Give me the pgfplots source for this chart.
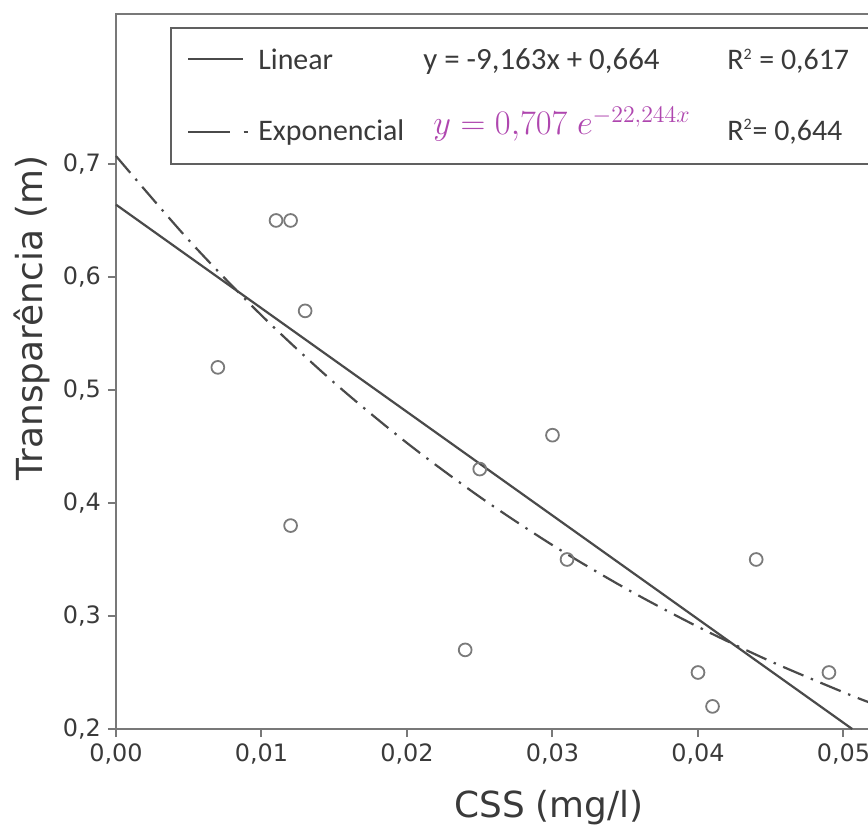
\documentclass[border=0pt]{standalone}
\usepackage{fontspec}
\setmainfont{DejaVu Sans}
\newfontfamily\legendfont{Carlito}
\usepackage{pgfplots}
\pgfplotsset{compat=1.18}
\definecolor{axisgray}{HTML}{787878}
\definecolor{txtgray}{HTML}{3A3A3A}
\definecolor{linegray}{HTML}{4A4A4A}
\definecolor{markgray}{HTML}{7A7A7A}
\definecolor{eqmagenta}{RGB}{175,70,175}

\begin{document}
\begin{tikzpicture}
\begin{axis}[
  name=ax,
  scale only axis, width=378bp, height=357.5bp,
  xmin=0, xmax=0.05196, ymin=0.2, ymax=0.8327,
  xtick={0,0.01,0.02,0.03,0.04,0.05},
  ytick={0.2,0.3,0.4,0.5,0.6,0.7},
  xtick pos=left, ytick pos=left,
  tick align=outside, major tick length=4bp,
  axis line style={axisgray, line width=1bp},
  every tick/.style={axisgray, line width=1bp},
  tick label style={font=\fontsize{12}{14}\selectfont, text=txtgray},
  /pgf/number format/assume math mode=true,
  xticklabel style={/pgf/number format/.cd, fixed, fixed zerofill, precision=2, use comma},
  yticklabel style={/pgf/number format/.cd, fixed, fixed zerofill, precision=1, use comma},
  scaled x ticks=false,
  xlabel={CSS\hspace{0.3em}(mg/l)},
  xlabel style={at={(rel axis cs:0.573,0)}, anchor=base, yshift=-44bp,
    font=\fontsize{18}{20}\selectfont, text=txtgray},
  ylabel={Transparência (m)},
  ylabel style={at={(axis description cs:-0.0966,0.575)}, anchor=base,
    font=\fontsize{18}{20}\selectfont, text=txtgray},
  clip=false,
]
% data points
\addplot[only marks, mark=o, mark size=3.2bp, mark options={markgray, line width=0.9bp}]
  coordinates {
  (0.007,0.52) (0.011,0.65) (0.012,0.65) (0.013,0.57) (0.012,0.38)
  (0.024,0.27) (0.025,0.43) (0.030,0.46) (0.031,0.35) (0.040,0.25)
  (0.041,0.22) (0.044,0.35) (0.049,0.25)
};
% linear fit
\addplot[linegray, line width=1.1bp] coordinates {(0,0.664) (0.0506,0.2)};
% exponential fit
\addplot[linegray, line width=1.1bp, dash pattern=on 11bp off 4bp on 1.2bp off 4bp, smooth]
  coordinates {
  (0,0.707) (0.005,0.6326) (0.010,0.5660) (0.015,0.5064) (0.020,0.4531)
  (0.025,0.4054) (0.030,0.3627) (0.035,0.3246) (0.040,0.2904)
  (0.045,0.2598) (0.050,0.2325) (0.0519,0.2229)
};
% legend box
\draw[fill=white, draw=axisgray!80!black, line width=0.9bp]
  (axis cs:0.00378,0.700) rectangle (axis cs:0.0535,0.8204);
\draw[linegray, line width=1bp] (axis cs:0.00495,0.7929) -- (axis cs:0.00873,0.7929);
\draw[linegray, line width=1bp] (axis cs:0.00495,0.7283) -- (axis cs:0.00784,0.7283);
\draw[linegray, line width=1.4bp] (axis cs:0.00878,0.7283) -- (axis cs:0.00908,0.7283);
\node[anchor=base west, inner sep=0, font=\legendfont\fontsize{15}{17}\selectfont, text=txtgray]
  at (axis cs:0.00976,0.7832) {Linear};
\node[anchor=base west, inner sep=0, font=\legendfont\fontsize{15}{17}\selectfont, text=txtgray]
  at (axis cs:0.00976,0.7212) {Exponencial};
\node[anchor=base west, inner sep=0, font=\legendfont\fontsize{15.5}{17}\selectfont, text=txtgray]
  at (axis cs:0.0211,0.7832) {y = -9,163x + 0,664};
\node[anchor=base west, inner sep=0, font=\legendfont\fontsize{15}{17}\selectfont, text=txtgray]
  at (axis cs:0.04199,0.7832) {R\textsuperscript{\footnotesize 2} = 0,617};
\node[anchor=base west, inner sep=0, font=\legendfont\fontsize{15}{17}\selectfont, text=txtgray]
  at (axis cs:0.04199,0.7212) {R\textsuperscript{\footnotesize 2}= 0,644};
\node[anchor=base west, inner sep=0, font=\fontsize{16.5}{18}\selectfont, text=eqmagenta]
  at (axis cs:0.02179,0.7257) {$y = 0{,}707\; e^{-22{,}244x}$};
\end{axis}
\pgfresetboundingbox
\path[use as bounding box] ([xshift=-58bp,yshift=-49bp]ax.south west)
  rectangle ([xshift=376bp,yshift=7bp]ax.north west);
\end{tikzpicture}
\end{document}
